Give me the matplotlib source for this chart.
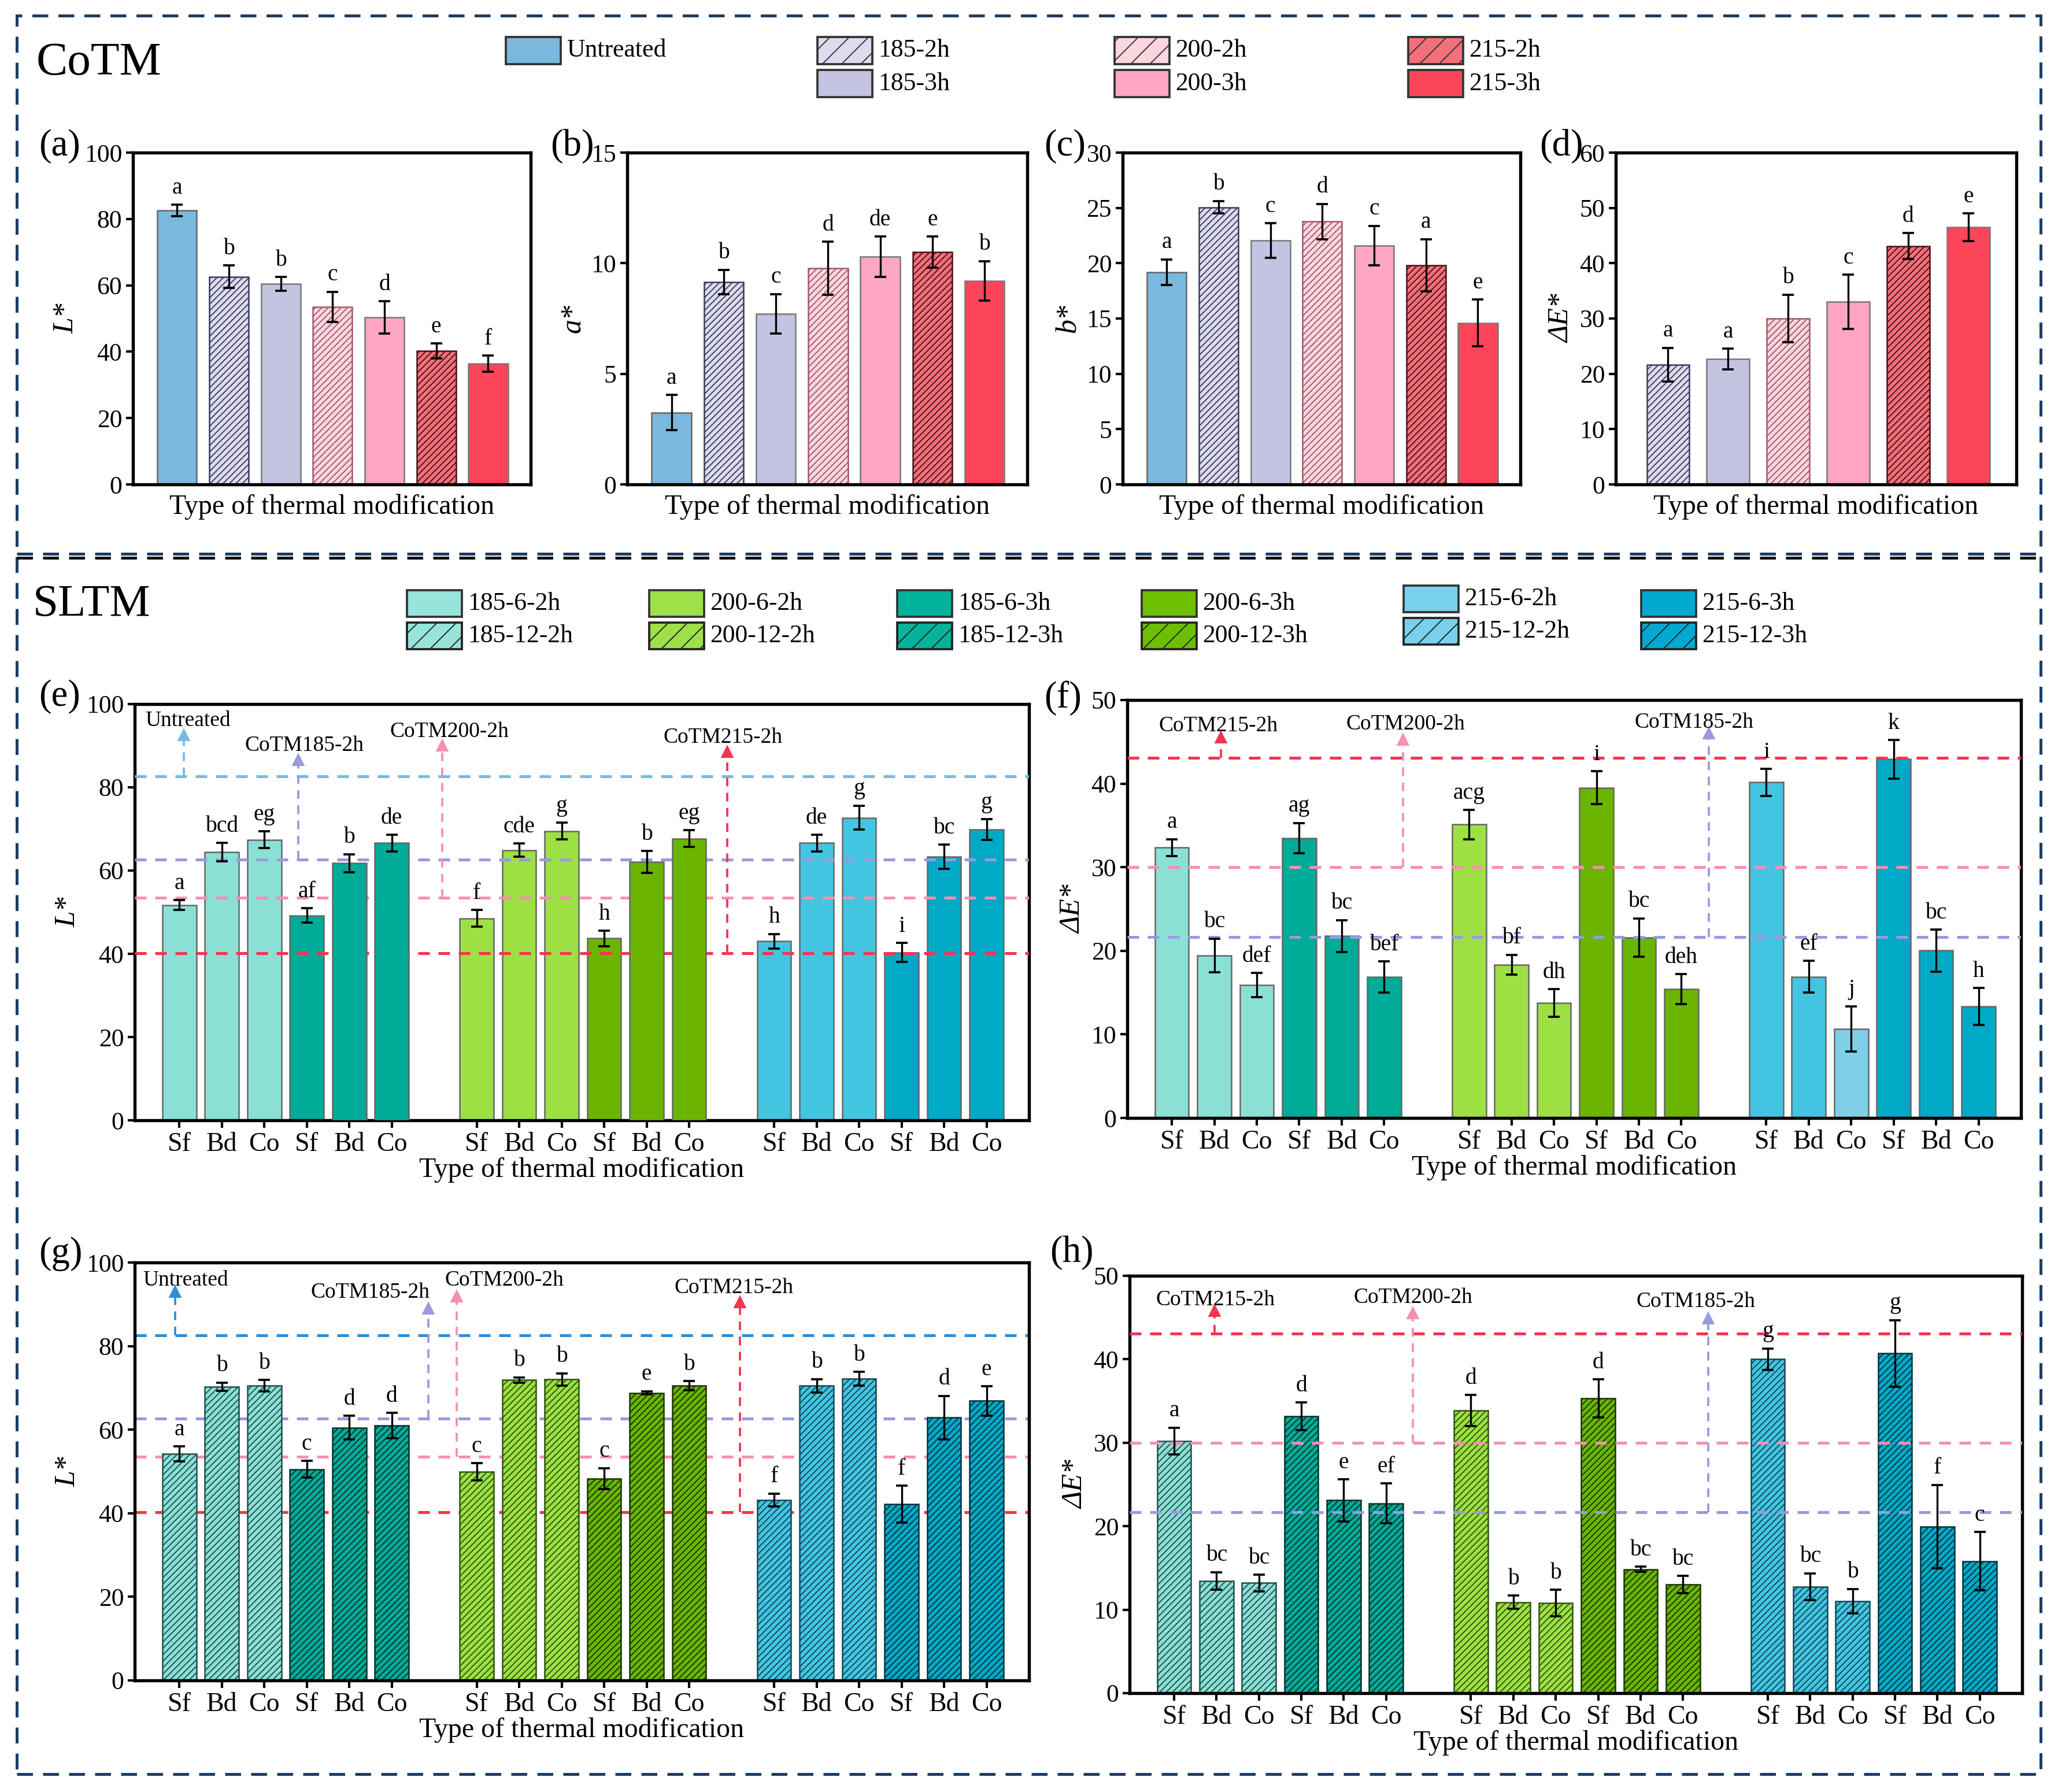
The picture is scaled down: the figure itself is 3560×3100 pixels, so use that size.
import numpy as np
import matplotlib.pyplot as plt
from matplotlib.patches import Rectangle
from matplotlib.lines import Line2D

plt.rcParams['font.family'] = ['Liberation Serif', 'DejaVu Serif']
plt.rcParams['hatch.linewidth'] = 0.45

# ---------------- CoTM data (panels a-d) ----------------
cotm_names = ['Untreated', '185-2h', '185-3h', '200-2h', '200-3h', '215-2h', '215-3h']
cotm_colors = ['#7ab8dd', '#dcdcee', '#c4c4e2', '#fcd6df', '#ffa6c2', '#f2707a', '#fc4559']
cotm_hatch = [None, '/////////', None, '/////////', None, '/////////', None]
cotm_edge = ['#666666', '#3a3a5c', '#777777', '#a05a6a', '#777777', '#4a1018', '#777777']

L_mean = [82.6, 62.6, 60.4, 53.5, 50.3, 40.2, 36.4]
L_err = [1.7, 3.4, 2.1, 4.6, 4.9, 2.3, 2.4]
L_sig = ['a', 'b', 'b', 'c', 'd', 'e', 'f']

a_mean = [3.25, 9.15, 7.71, 9.77, 10.29, 10.51, 9.2]
a_err = [0.8, 0.55, 0.9, 1.2, 0.92, 0.7, 0.9]
a_sig = ['a', 'b', 'c', 'd', 'de', 'e', 'b']

b_mean = [19.2, 25.06, 22.05, 23.76, 21.6, 19.83, 14.6]
b_err = [1.15, 0.57, 1.55, 1.6, 1.77, 2.35, 2.1]
b_sig = ['a', 'b', 'c', 'd', 'c', 'a', 'e']

# dE has no untreated bar
dE_mean = [21.67, 22.7, 30.0, 33.0, 43.1, 46.5]
dE_err = [3.05, 1.85, 4.3, 4.9, 2.35, 2.5]
dE_sig = ['a', 'a', 'b', 'c', 'd', 'e']

# ---------------- SLTM data (panels e-h) ----------------
sltm6_names = ['185-6-2h', '185-6-3h', '200-6-2h', '200-6-3h', '215-6-2h', '215-6-3h']
sltm12_names = ['185-12-2h', '185-12-3h', '200-12-2h', '200-12-3h', '215-12-2h', '215-12-3h']
sltm_colors = ['#8be0d6', '#00ab98', '#9de044', '#69b500', '#43c5e1', '#00aac7']
sltm_legend_colors = ['#97e5da', '#00b39b', '#9ee048', '#6dbf00', '#78d0ea', '#00a9d0']
sltm_hatch_edge = ['#1f4f49', '#05302a', '#2f540c', '#1a3300', '#124656', '#04303d']
pos_labels = ['Sf', 'Bd', 'Co'] * 6

e_mean = [51.7, 64.4, 67.4, 49.2, 61.8, 66.6,
          48.5, 64.9, 69.5, 43.7, 62.1, 67.7,
          43.0, 66.6, 72.7, 40.3, 63.3, 69.8]
e_err = [1.2, 2.2, 2.0, 1.75, 2.15, 2.0,
         2.0, 1.6, 2.0, 1.85, 2.6, 2.0,
         1.75, 2.0, 2.9, 2.3, 2.9, 2.5]
e_sig = ['a', 'bcd', 'eg', 'af', 'b', 'de',
         'f', 'cde', 'g', 'h', 'b', 'eg',
         'h', 'de', 'g', 'i', 'bc', 'g']

f_mean = [32.35, 19.45, 15.9, 33.5, 21.78, 16.88,
          35.1, 18.33, 13.77, 39.52, 21.58, 15.42,
          40.15, 16.88, 10.67, 42.92, 20.03, 13.34]
f_err = [1.0, 2.0, 1.45, 1.8, 1.9, 1.85,
         1.75, 1.2, 1.65, 1.95, 2.3, 1.8,
         1.6, 1.9, 2.7, 2.3, 2.5, 2.2]
f_sig = ['a', 'bc', 'def', 'ag', 'bc', 'bef',
         'acg', 'bf', 'dh', 'i', 'bc', 'deh',
         'i', 'ef', 'j', 'k', 'bc', 'h']

g_mean = [54.2, 70.3, 70.5, 50.5, 60.5, 61.0,
          49.9, 71.9, 72.0, 48.3, 68.8, 70.5,
          43.2, 70.5, 72.2, 42.2, 62.9, 66.9]
g_err = [1.75, 1.0, 1.4, 2.0, 2.8, 3.0,
         2.1, 0.6, 1.5, 2.5, 0.4, 1.1,
         1.5, 1.6, 1.6, 4.4, 5.2, 3.5]
g_sig = ['a', 'b', 'b', 'c', 'd', 'd',
         'c', 'b', 'b', 'c', 'e', 'b',
         'f', 'b', 'b', 'f', 'd', 'e']

h_mean = [30.2, 13.45, 13.2, 33.16, 23.1, 22.73,
          33.86, 10.9, 10.8, 35.3, 14.84, 13.0,
          40.0, 12.75, 11.04, 40.7, 19.94, 15.8]
h_err = [1.6, 1.05, 1.0, 1.65, 2.5, 2.4,
         1.85, 0.8, 1.6, 2.3, 0.3, 1.05,
         1.3, 1.6, 1.45, 4.0, 5.0, 3.5]
h_sig = ['a', 'bc', 'bc', 'd', 'e', 'ef',
         'd', 'b', 'b', 'd', 'bc', 'bc',
         'g', 'bc', 'b', 'g', 'f', 'c']

W, H = 3561, 3100
fig = plt.figure(figsize=(W / 300, H / 300), dpi=300)


def px_axes(x0, x1, y0, y1):
    return fig.add_axes([x0 / W, 1 - y1 / H, (x1 - x0) / W, (y1 - y0) / H])


def style_axes(ax, ylim, step, ylabel):
    ax.set_ylim(*ylim)
    ax.set_yticks(np.arange(ylim[0], ylim[1] + 0.01, step))
    for sp in ax.spines.values():
        sp.set_linewidth(1.3)
    ax.tick_params(axis='y', direction='out', length=3, width=1, labelsize=10.5, pad=1.5)
    ax.set_ylabel(ylabel, fontsize=12, fontstyle='italic', labelpad=2)
    ax.set_xlabel('Type of thermal modification', fontsize=11.5, labelpad=4)


def sig_letters(ax, x, mean, err, sig, size):
    for xi, m, e, s in zip(x, mean, err, sig):
        ax.annotate(s, (xi, m + e), xytext=(0, 2.5), textcoords='offset points',
                    ha='center', va='bottom', fontsize=size)


def top_panel(ax, idx, mean, err, sig, ylim, step, ylabel, xlim, width):
    x = np.arange(1, len(idx) + 1)
    for xi, k, m in zip(x, idx, mean):
        ax.bar(xi, m, width, color=cotm_colors[k], hatch=cotm_hatch[k],
               edgecolor=cotm_edge[k], linewidth=0.6, zorder=2)
    ax.errorbar(x, mean, yerr=err, fmt='none', ecolor='k', elinewidth=0.8,
                capsize=2.5, capthick=0.9, zorder=3)
    sig_letters(ax, x, mean, err, sig, 9.5)
    ax.set_xlim(*xlim)
    ax.set_xticks([])
    style_axes(ax, ylim, step, ylabel)


def bottom_panel(ax, mean, err, sig, hatched, ylim, step, ylabel, colors, refs,
                 line_z=3, front=()):
    x = [g * 7 + i + 1 for g in range(3) for i in range(6)]
    for j, (xi, m) in enumerate(zip(x, mean)):
        s = (j // 6) * 2 + (j % 6) // 3
        z = 4 if j in front else 2
        if hatched:
            ax.bar(xi, m, 0.8, color=colors[j], hatch='/////////',
                   edgecolor=sltm_hatch_edge[s], linewidth=0.6, zorder=z)
        else:
            ax.bar(xi, m, 0.8, color=colors[j], edgecolor='#666666',
                   linewidth=0.6, zorder=z)
    # reference lines from the CoTM results
    for val, col, ax_x, tip, text, tx, ty in refs:
        ax.axhline(val, color=col, lw=1.2, ls=(0, (4, 3)), zorder=line_z)
        ax.plot([ax_x, ax_x], [val, tip], color=col, lw=0.9, ls=(0, (4, 3)), zorder=3)
        ax.plot([ax_x], [tip], marker='^', ms=4, color=col, zorder=3)
        ax.text(tx, ty, text, ha='center', va='center', fontsize=9)
    ax.errorbar(x, mean, yerr=err, fmt='none', ecolor='k', elinewidth=0.8,
                capsize=2.5, capthick=0.9, zorder=5)
    sig_letters(ax, x, mean, err, sig, 9.5)
    ax.set_xlim(-0.05, 21.0)
    ax.set_xticks(x)
    ax.set_xticklabels(pos_labels)
    ax.tick_params(axis='x', direction='out', length=3, width=1, labelsize=11, pad=2)
    style_axes(ax, ylim, step, ylabel)
    ax.xaxis.labelpad = 0


# ---------------- top row ----------------
ax_a = px_axes(230, 918, 264, 838)
top_panel(ax_a, range(7), L_mean, L_err, L_sig, (0, 100), 20, 'L*', (0.15, 7.82), 0.76)
ax_b = px_axes(1085, 1777, 264, 838)
top_panel(ax_b, range(7), a_mean, a_err, a_sig, (0, 15), 5, 'a*', (0.15, 7.82), 0.76)
ax_c = px_axes(1942, 2630, 264, 838)
top_panel(ax_c, range(7), b_mean, b_err, b_sig, (0, 30), 5, 'b*', (0.15, 7.82), 0.76)
ax_d = px_axes(2795, 3488, 264, 838)
top_panel(ax_d, range(1, 7), dE_mean, dE_err, dE_sig, (0, 60), 10, 'ΔE*', (0.13, 6.8), 0.71)

# ---------------- bottom rows ----------------
c_unt, c_185, c_200, c_215 = '#7ab8e6', '#9a9ade', '#f78fb3', '#f5344f'
bar_cols = [sltm_colors[(j // 6) * 2 + (j % 6) // 3] for j in range(18)]
f_cols = list(bar_cols)
f_cols[14] = '#7fcfe8'

refs_e = [(L_mean[0], c_unt, 1.1, 92.5, 'Untreated', 1.2, 96.0),
          (L_mean[1], c_185, 3.8, 86.5, 'CoTM185-2h', 3.95, 90.0),
          (L_mean[3], c_200, 7.19, 90.0, 'CoTM200-2h', 7.36, 93.3),
          (L_mean[5], c_215, 13.9, 88.5, 'CoTM215-2h', 13.8, 92.0)]
refs_g = [(L_mean[0], '#2f8fd8', 0.9, 93.0, 'Untreated', 1.15, 95.8),
          (L_mean[1], c_185, 6.86, 89.0, 'CoTM185-2h', 5.5, 92.8),
          (L_mean[3], c_200, 7.53, 91.9, 'CoTM200-2h', 8.65, 95.8),
          (L_mean[5], c_215, 14.2, 90.4, 'CoTM215-2h', 14.06, 94.0)]
refs_f = [(dE_mean[4], c_215, 2.16, 45.5, 'CoTM215-2h', 2.1, 46.9),
          (dE_mean[2], c_200, 6.45, 45.2, 'CoTM200-2h', 6.5, 47.1),
          (dE_mean[0], c_185, 13.65, 46.0, 'CoTM185-2h', 13.3, 47.3)]
refs_h = [(dE_mean[4], c_215, 1.95, 45.8, 'CoTM215-2h', 1.97, 47.1),
          (dE_mean[2], c_200, 6.63, 45.5, 'CoTM200-2h', 6.63, 47.4),
          (dE_mean[0], c_185, 13.6, 44.9, 'CoTM185-2h', 13.3, 46.9)]

ax_e = px_axes(233, 1780, 1218, 1938)
bottom_panel(ax_e, e_mean, e_err, e_sig, False, (0, 100), 20, 'L*', bar_cols, refs_e,
             front=(4, 5, 10, 11))
ax_f = px_axes(1950, 3496, 1211, 1934)
bottom_panel(ax_f, f_mean, f_err, f_sig, False, (0, 50), 10, 'ΔE*', f_cols, refs_f)
ax_g = px_axes(233, 1780, 2184, 2907)
bottom_panel(ax_g, g_mean, g_err, g_sig, True, (0, 100), 20, 'L*', bar_cols, refs_g,
             line_z=1)
ax_h = px_axes(1954, 3498, 2207, 2929)
bottom_panel(ax_h, h_mean, h_err, h_sig, True, (0, 50), 10, 'ΔE*', bar_cols, refs_h)

# ---------------- panel letters / titles ----------------
for lab, x, y in [('(a)', 103, 253), ('(b)', 990, 253), ('(c)', 1842, 253), ('(d)', 2701, 253),
                  ('(e)', 103, 1205), ('(f)', 1839, 1208), ('(g)', 105, 2169), ('(h)', 1854, 2167)]:
    fig.text(x / W, 1 - y / H, lab, ha='center', va='center', fontsize=15.5)
fig.text(63 / W, 1 - 109 / H, 'CoTM', ha='left', va='center', fontsize=19.5)
fig.text(57 / W, 1 - 1046 / H, 'SLTM', ha='left', va='center', fontsize=19)


# ---------------- legends drawn as figure patches ----------------
def legend_item(x0, y0, x1, y1, color, hatch, edge, label):
    fig.add_artist(Rectangle((x0 / W, 1 - y1 / H), (x1 - x0) / W, (y1 - y0) / H,
                             transform=fig.transFigure, facecolor=color, hatch=hatch,
                             edgecolor=edge, linewidth=0.9))
    fig.text((x1 + 10) / W, 1 - (y0 + y1) / 2 / H, label, ha='left', va='center', fontsize=10.5)


cotm_leg_x = [875, 1414, 1414, 1928, 1928, 2436, 2436]
cotm_leg_y = [64, 64, 121, 64, 121, 64, 121]
for k in range(7):
    legend_item(cotm_leg_x[k], cotm_leg_y[k], cotm_leg_x[k] + 95, cotm_leg_y[k] + 47,
                cotm_colors[k], '///' if cotm_hatch[k] else None,
                '#333333', cotm_names[k])

sltm_leg_x = [704, 1552, 1123, 1975, 2428, 2839]
for s in range(6):
    dy = -8 if s == 4 else 0
    legend_item(sltm_leg_x[s], 1021 + dy, sltm_leg_x[s] + 95, 1067 + dy,
                sltm_legend_colors[s], None, '#333333', sltm6_names[s])
    legend_item(sltm_leg_x[s], 1077 + dy, sltm_leg_x[s] + 95, 1123 + dy,
                sltm_legend_colors[s], '///', '#222222', sltm12_names[s])

# ---------------- dashed frames ----------------
navy = '#1c3d63'
dash = (0, (5.5, 3.5))
fig.add_artist(Rectangle((29 / W, 1 - 3069 / H), (3530 - 29) / W, (3069 - 27) / H,
                         transform=fig.transFigure, fill=False, edgecolor=navy,
                         linewidth=1.2, linestyle=dash))
fig.add_artist(Line2D([29 / W, 3530 / W], [1 - 958 / H, 1 - 958 / H],
                      transform=fig.transFigure, color=navy, lw=1.2, ls=dash))
fig.add_artist(Line2D([29 / W, 3530 / W], [1 - 965 / H, 1 - 965 / H],
                      transform=fig.transFigure, color='#111111', lw=1.2, ls=dash))

fig.savefig('out.png', dpi=300)
